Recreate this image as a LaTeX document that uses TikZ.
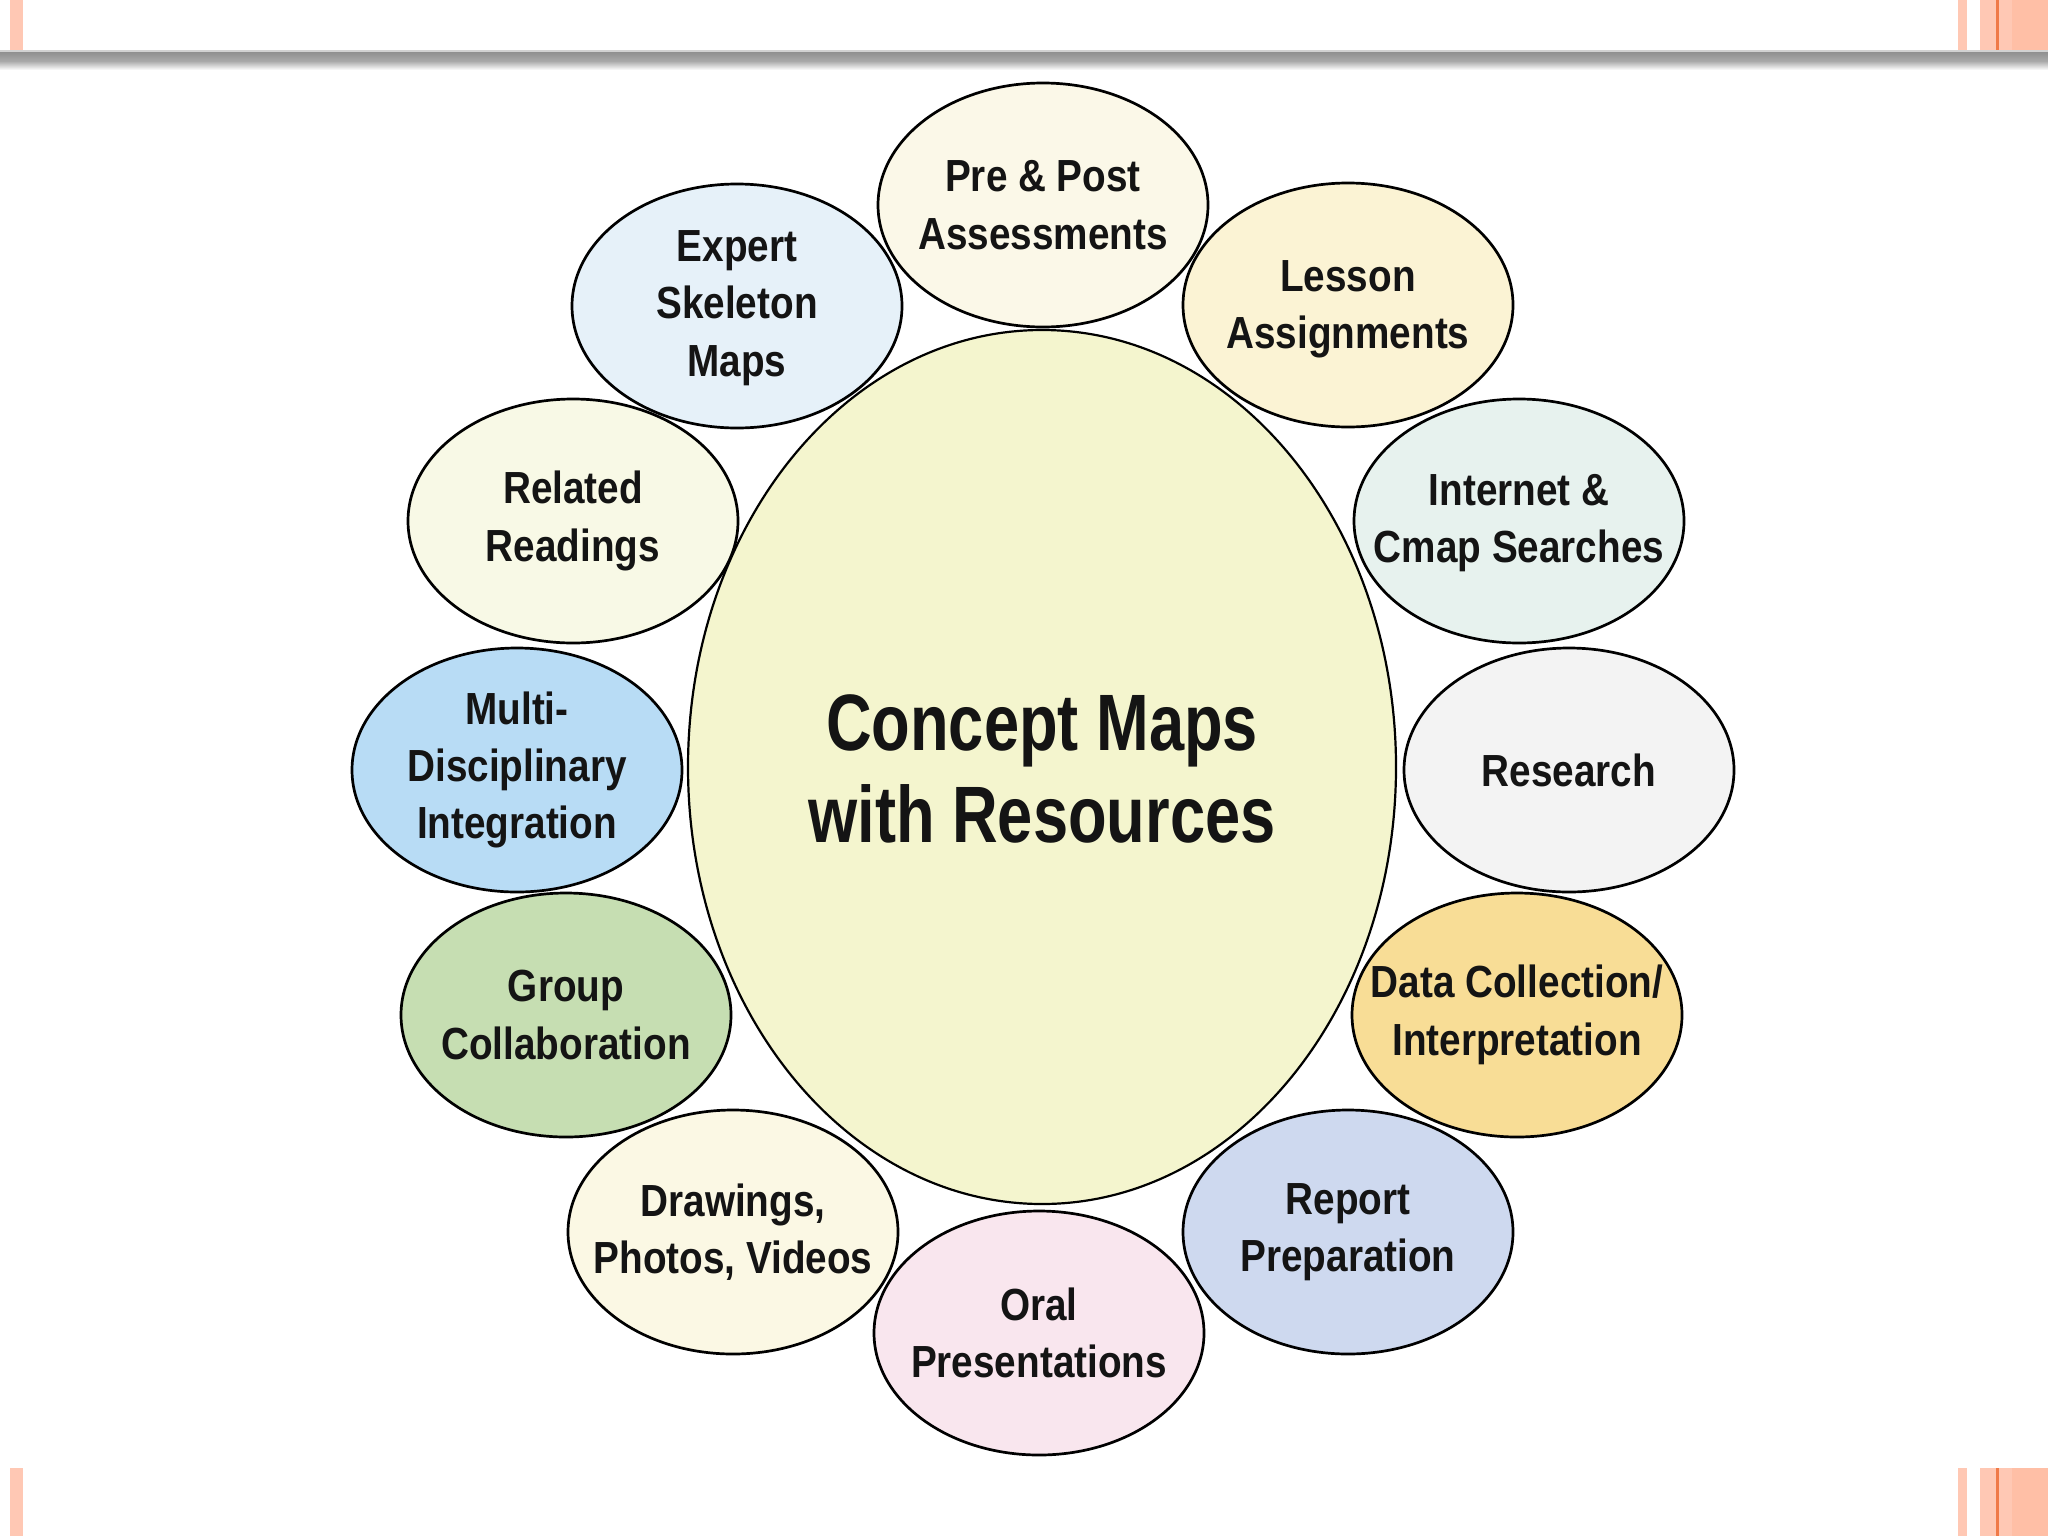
\documentclass[tikz,border=0pt]{standalone}
\usepackage{fontspec}
\setmainfont{Liberation Sans}
\newfontfamily\bubfont{Liberation Sans}[FakeStretch=0.86]
\newfontfamily\ctrfont{Liberation Sans}[FakeStretch=0.79]
\usetikzlibrary{shapes.geometric}
\definecolor{stripe}{HTML}{FFC8B4}
\definecolor{stripedk}{HTML}{FFBFA6}
\definecolor{stripeln}{HTML}{F07A48}
\definecolor{cCtr}{HTML}{F4F5CE}
\definecolor{cPre}{HTML}{FBF8E8}
\definecolor{cLes}{HTML}{FBF3D4}
\definecolor{cInt}{HTML}{E7F2EE}
\definecolor{cRes}{HTML}{F3F3F3}
\definecolor{cDat}{HTML}{F8DD96}
\definecolor{cRep}{HTML}{CED9EF}
\definecolor{cOra}{HTML}{F9E6EE}
\definecolor{cDra}{HTML}{FBF8E4}
\definecolor{cGro}{HTML}{C6DEB2}
\definecolor{cMul}{HTML}{B8DCF5}
\definecolor{cRel}{HTML}{F8F9E6}
\definecolor{cExp}{HTML}{E6F1F9}
\tikzset{
  bub/.style={ellipse, draw=black, line width=1.35pt, minimum width=165pt, minimum height=122pt, inner sep=0pt},
  lbl/.style={font=\bubfont\bfseries\fontsize{22.5}{28.7}\selectfont, align=center, inner sep=0pt, text=black!92},
  ctrlbl/.style={font=\ctrfont\bfseries\fontsize{40}{46}\selectfont, align=center, inner sep=0pt, text=black!92}
}
\begin{document}
\begin{tikzpicture}[x=0.5pt,y=-0.5pt]
\useasboundingbox (0,0) rectangle (2048,1536);
\fill[white] (0,0) rectangle (2048,1536);
% corner stripes
\foreach \ya/\yb in {0/51,1468/1536}{
  \fill[stripe] (10,\ya) rectangle (23,\yb);
  \fill[stripe] (1958,\ya) rectangle (1967,\yb);
  \fill[stripe] (1980,\ya) rectangle (2048,\yb);
  \fill[stripedk] (2012,\ya) rectangle (2048,\yb);
  \fill[stripeln] (1996,\ya) rectangle (1998.5,\yb);
}
% top bar
\fill[gray!35] (0,50) rectangle (2048,53);
\shade[top color=gray!85, bottom color=gray!65] (0,53) rectangle (2048,62);
\shade[top color=gray!60, bottom color=white] (0,62) rectangle (2048,70);
% centre
\node[bub, fill=cCtr, line width=1.1pt, minimum width=354pt, minimum height=437pt] (ctr) at (1042,767) {};
\node[ctrlbl] (ctr-t) at (1042,769) {Concept Maps\\with Resources};
% outer bubbles
\node[bub, fill=cPre] (pre) at (1043,205) {};
\node[bub, fill=cLes] (les) at (1348,305) {};
\node[bub, fill=cInt] (int) at (1519,521) {};
\node[bub, fill=cRes] (res) at (1569,770) {};
\node[bub, fill=cDat] (dat) at (1517,1015) {};
\node[bub, fill=cRep] (rep) at (1348,1232) {};
\node[bub, fill=cOra] (ora) at (1039,1333) {};
\node[bub, fill=cDra] (dra) at (733,1232) {};
\node[bub, fill=cGro] (gro) at (566,1015) {};
\node[bub, fill=cMul] (mul) at (517,770) {};
\node[bub, fill=cRel] (rel) at (573,521) {};
\node[bub, fill=cExp] (exp) at (737,306) {};
% labels
\node[lbl] (pre-t) at (pre) {Pre \& Post\\Assessments};
\node[lbl] (les-t) at ([yshift=-2pt]les.center) {Lesson\\Assignments};
\node[lbl] (int-t) at ([yshift=-1pt]int.center) {Internet \&\\Cmap Searches};
\node[lbl] (res-t) at (res) {Research};
\node[lbl] (dat-t) at (dat) {Data Collection/\\Interpretation};
\node[lbl] (rep-t) at (rep) {Report\\Preparation};
\node[lbl] (ora-t) at (ora) {Oral\\Presentations};
\node[lbl] (dra-t) at (dra) {Drawings,\\Photos, Videos};
\node[lbl] (gro-t) at (gro) {Group\\Collaboration};
\node[lbl] (mul-t) at (mul) {Multi-\\Disciplinary\\Integration};
\node[lbl] (rel-t) at (rel) {Related\\Readings};
\node[lbl] (exp-t) at ([yshift=-1pt]exp.center) {Expert\\Skeleton\\Maps};
\end{tikzpicture}
\end{document}
